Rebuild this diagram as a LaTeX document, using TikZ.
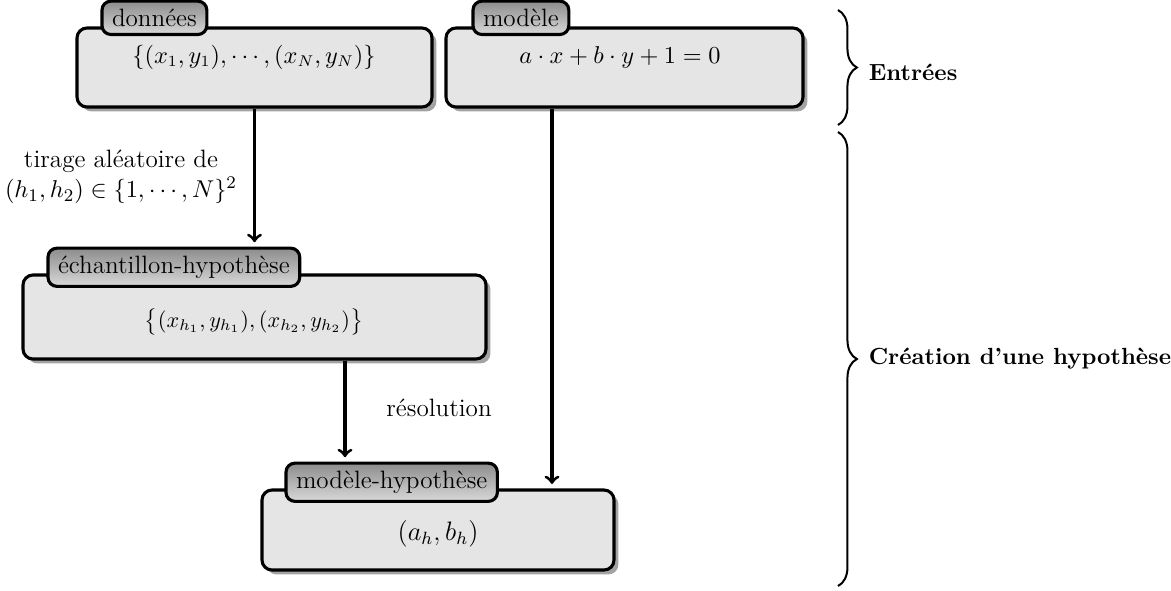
\documentclass[tikz,border=0pt]{standalone}
\usetikzlibrary{shadows, decorations.pathreplacing}

\begin{document}
\begin{tikzpicture}[x=0.45pt, y=-0.45pt,
        texte/.style={font=\fontsize{11.3}{13.5}\selectfont},
        titre/.style={font=\fontsize{10.5}{12.5}\selectfont\bfseries, anchor=west},
        boite/.style={draw, line width=1.4pt, rounded corners=4.5pt, fill=black!10,
            drop shadow={shadow xshift=2pt, shadow yshift=-2pt, fill=black!40, opacity=.9}},
        onglet/.style={texte, draw, line width=1.4pt, rounded corners=4pt, top color=black!45,
            bottom color=black!15, inner xsep=4.5pt, inner ysep=3.5pt, anchor=base west},
        fleche/.style={->, line width=1.4pt, shorten >=2pt},
        accolade/.style={decorate, decoration={brace, amplitude=8.5pt}, line width=0.9pt}]
        \def\u{0.45pt}

        \useasboundingbox (0,0) rectangle (1171,590);

        % les entrees
        \node[boite, minimum width=355*\u, minimum height=79*\u] (donnees) at (254.5,67.5) {};
        \node[onglet] (donnees-t) at ([xshift=25*\u]donnees.north west) {donn\'ees};
        \node[anchor=base, font=\fontsize{10.5}{12.5}\selectfont] (donnees-f) at (254,63) {$\{(x_1,y_1),\cdots,(x_N,y_N)\}$};

        \node[boite, minimum width=357*\u, minimum height=79*\u] (modele) at (624.5,67.5) {};
        \node[onglet] (modele-t) at ([xshift=27*\u]modele.north west) {mod\`ele};
        \node[anchor=base, font=\fontsize{10.5}{12.5}\selectfont] (modele-f) at (620,63) {$a\cdot x+b\cdot y+1=0$};

        % l'hypothese
        \node[boite, minimum width=463*\u, minimum height=84*\u] (echant) at (254.5,317) {};
        \node[onglet] (echant-t) at ([xshift=25*\u]echant.north west) {\'echantillon-hypoth\`ese};
        \node[anchor=base] (echant-f) at (254,327) {$\bigl\{(x_{h_1},y_{h_1}),(x_{h_2},y_{h_2})\bigr\}$};

        \node[boite, minimum width=352*\u, minimum height=80*\u] (hypo) at (438,530) {};
        \node[onglet] (hypo-t) at ([xshift=24*\u]hypo.north west) {mod\`ele-hypoth\`ese};
        \node[anchor=base, font=\large] (hypo-f) at (438,540) {$(a_h,b_h)$};

        % les fleches
        \draw[fleche] (donnees.south) -- (donnees.south |- echant-t.north);
        \coordinate (m-out) at ([xshift=-72.5*\u]modele.south);
        \draw[fleche] (m-out) -- (m-out |- hypo.north);
        \coordinate (e-out) at ([xshift=90.5*\u]echant.south);
        \draw[fleche] (e-out) -- (e-out |- hypo-t.north);

        \node[texte, align=center] (tirage) at (121,177) {tirage al\'eatoire de\\$(h_1,h_2)\in\{1,\cdots,N\}^2$};
        \node[texte] (resol) at (439,408) {r\'esolution};

        % les accolades
        \coordinate (a1-haut) at (838,10);
        \coordinate (a1-bas) at (838,125);
        \draw[accolade] (a1-haut) -- (a1-bas);
        \node[titre] (entrees) at (861,72) {Entr\'ees};

        \coordinate (a2-haut) at (838,132);
        \coordinate (a2-bas) at (838,586);
        \draw[accolade] (a2-haut) -- (a2-bas);
        \node[titre] (creation) at (861,359) {Cr\'eation d'une hypoth\`ese};
    \end{tikzpicture}
\end{document}
